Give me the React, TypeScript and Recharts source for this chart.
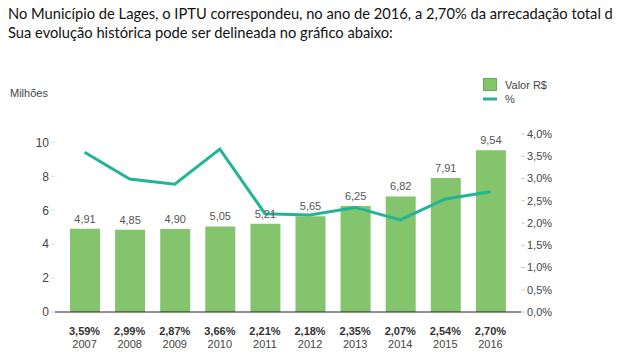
import React from 'react';
import { Bar, ComposedChart, LabelList, Line, XAxis, YAxis } from 'recharts';

const years = ['2007', '2008', '2009', '2010', '2011', '2012', '2013', '2014', '2015', '2016'];
const valor = [4.91, 4.85, 4.9, 5.05, 5.21, 5.65, 6.25, 6.82, 7.91, 9.54];
const pct = [3.59, 2.99, 2.87, 3.66, 2.21, 2.18, 2.35, 2.07, 2.54, 2.7];
const leftTicks = [0, 2, 4, 6, 8, 10];
const rightTicks = [0, 0.5, 1, 1.5, 2, 2.5, 3, 3.5, 4];

const data = years.map((ano, i) => ({ ano, valor: valor[i], pct: pct[i] }));

const GREEN = '#84c46c';
const TEAL = '#21b596';
const fmt = (v: number, d: number) => v.toFixed(d).replace('.', ',');

function YearTick(props: any) {
  const { x, y, payload, index } = props;
  return (
    <g transform={`translate(${x},${y})`}>
      <text x={0} y={15} textAnchor="middle" fontSize={11} fill="#333" fontWeight={600}>
        {fmt(pct[index], 2)}%
      </text>
      <text x={0} y={28} textAnchor="middle" fontSize={11} fill="#444">
        {payload.value}
      </text>
    </g>
  );
}

function LegendBox() {
  return (
    <svg width={100} height={30} style={{ position: 'absolute', left: 483, top: 78 }}>
      <rect x={0.5} y={0.5} width={13} height={12} fill={GREEN} stroke="#6aa955" />
      <text x={22} y={11} fontSize={11} fill="#444">Valor R$</text>
      <line x1={0} x2={14} y1={21} y2={21} stroke={TEAL} strokeWidth={3} />
      <text x={22} y={25} fontSize={11} fill="#444">%</text>
    </svg>
  );
}

export default function App() {
  return (
    <div style={{ position: 'absolute', left: 0, top: 0, width: 617, height: 357, background: '#fff', overflow: 'hidden', fontFamily: 'Arial, "Liberation Sans", sans-serif' }}>
      <div style={{ position: 'absolute', left: 8, top: 4, fontFamily: 'Lato, sans-serif', fontSize: 14.7, lineHeight: '19px', color: '#111', whiteSpace: 'nowrap' }}>
        <div>No Município de Lages, o IPTU correspondeu, no ano de 2016, a 2,70% da arrecadação total d</div>
        <div>Sua evolução histórica pode ser delineada no gráfico abaixo:</div>
      </div>
      <div style={{ position: 'absolute', left: 10, top: 87, fontSize: 11, color: '#444' }}>Milhões</div>
      <div style={{ position: 'absolute', left: 0, top: 0 }}>
        <ComposedChart width={617} height={357} data={data} margin={{ top: 134, right: 36, bottom: 5, left: 15 }}>
          <XAxis
            dataKey="ano"
            tick={<YearTick />}
            tickLine={false}
            axisLine={{ stroke: '#222' }}
            height={40}
            padding={{ left: 7, right: 8 }}
            interval={0}
          />
          <YAxis
            yAxisId="v"
            domain={[0, 10.5]}
            ticks={leftTicks}
            width={40}
            axisLine={false}
            tickLine={{ stroke: '#ddd' }}
            tickSize={4}
            tick={{ fontSize: 12, fill: '#444' }}
          />
          <YAxis
            yAxisId="p"
            orientation="right"
            domain={[0, 4]}
            ticks={rightTicks}
            width={60}
            axisLine={false}
            tickLine={{ stroke: '#ccc' }}
            tickSize={4}
            tickFormatter={(v: number) => `${fmt(v, 1)}%`}
            tick={{ fontSize: 11, fill: '#444' }}
          />
          <Bar yAxisId="v" dataKey="valor" fill={GREEN} barSize={30} isAnimationActive={false}>
            <LabelList dataKey="valor" position="top" offset={6} fontSize={11} fill="#555" formatter={(v: any) => fmt(Number(v), 2)} />
          </Bar>
          <Line yAxisId="p" dataKey="pct" stroke={TEAL} strokeWidth={3} dot={false} type="linear" isAnimationActive={false} />
        </ComposedChart>
      </div>
      <LegendBox />
    </div>
  );
}
